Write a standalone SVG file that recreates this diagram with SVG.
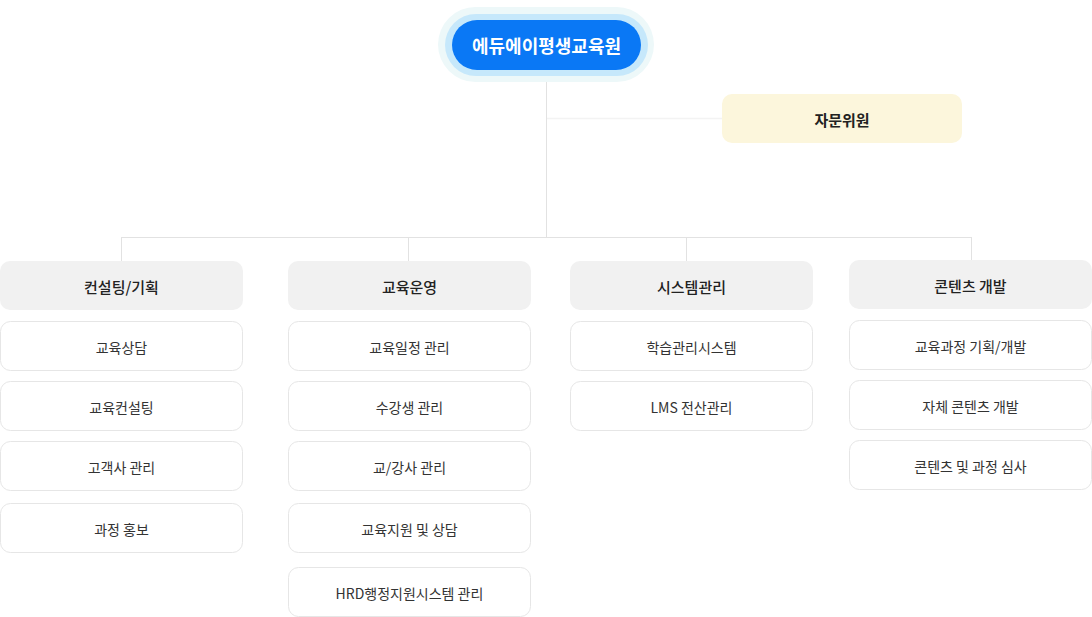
<svg xmlns="http://www.w3.org/2000/svg" width="1092" height="617" viewBox="0 0 1092 617">
<style>
text{font-family:"Noto Sans CJK KR","Noto Sans",sans-serif;text-anchor:middle;dominant-baseline:central;fill:#222}
.h rect{fill:#f1f1f1}
.h text{font-size:15px;font-weight:500}
.i rect{fill:#fff;stroke:#e6e6e6}
.i text{font-size:14px;fill:#333}
.c{stroke:#e2e2e2;stroke-width:1;fill:none}
</style>
<rect width="1092" height="617" fill="#fff"/>
<g id="connectors">
<path class="c" d="M546.5 82V237.5M121.5 237.5H971.5M121.5 237V261M408.5 237V261M686.5 237V261M971.5 237V261"/>
<path d="M547 118.5H722" stroke="#f3f3f3" stroke-width="1.5"/>
</g>
<g id="root">
<rect x="438" y="7" width="216" height="75" rx="37.5" fill="#edf8f9"/>
<rect x="445" y="14" width="203" height="62" rx="31" fill="#c6e8fb"/>
<rect x="452" y="20" width="189" height="50" rx="25" fill="#0a78f5"/>
<text x="546.5" y="45" style="font-size:18px;font-weight:700;fill:#fff">에듀에이평생교육원</text>
</g>
<g id="advisory">
<rect x="722" y="94" width="240" height="49" rx="10" fill="#fcf6dc"/>
<text x="842" y="119" style="font-size:15px;font-weight:700">자문위원</text>
</g>
<g id="h1" class="h"><rect x="0" y="261" width="243" height="49" rx="10"/><text x="121.5" y="286">컨설팅/기획</text></g>
<g id="h2" class="h"><rect x="288" y="261" width="243" height="49" rx="10"/><text x="409.5" y="286">교육운영</text></g>
<g id="h3" class="h"><rect x="570" y="261" width="243" height="49" rx="10"/><text x="691.5" y="286">시스템관리</text></g>
<g id="h4" class="h"><rect x="849" y="260" width="243" height="49" rx="10"/><text x="970.5" y="285">콘텐츠 개발</text></g>
<g id="c1a" class="i"><rect x="0.5" y="321.5" width="242" height="49" rx="10"/><text x="121.5" y="347">교육상담</text></g>
<g id="c1b" class="i"><rect x="0.5" y="381.5" width="242" height="49" rx="10"/><text x="121.5" y="407">교육컨설팅</text></g>
<g id="c1c" class="i"><rect x="0.5" y="441.5" width="242" height="49" rx="10"/><text x="121.5" y="467">고객사 관리</text></g>
<g id="c1d" class="i"><rect x="0.5" y="503.5" width="242" height="49" rx="10"/><text x="121.5" y="529">과정 홍보</text></g>
<g id="c2a" class="i"><rect x="288.5" y="321.5" width="242" height="49" rx="10"/><text x="409.5" y="347">교육일정 관리</text></g>
<g id="c2b" class="i"><rect x="288.5" y="381.5" width="242" height="49" rx="10"/><text x="409.5" y="407">수강생 관리</text></g>
<g id="c2c" class="i"><rect x="288.5" y="441.5" width="242" height="49" rx="10"/><text x="409.5" y="467">교/강사 관리</text></g>
<g id="c2d" class="i"><rect x="288.5" y="503.5" width="242" height="49" rx="10"/><text x="409.5" y="529">교육지원 및 상담</text></g>
<g id="c2e" class="i"><rect x="288.5" y="567.5" width="242" height="49" rx="10"/><text x="409.5" y="593">HRD행정지원시스템 관리</text></g>
<g id="c3a" class="i"><rect x="570.5" y="321.5" width="242" height="49" rx="10"/><text x="691.5" y="347">학습관리시스템</text></g>
<g id="c3b" class="i"><rect x="570.5" y="381.5" width="242" height="49" rx="10"/><text x="691.5" y="407">LMS 전산관리</text></g>
<g id="c4a" class="i"><rect x="849.5" y="320.5" width="242" height="49" rx="10"/><text x="970.5" y="346">교육과정 기획/개발</text></g>
<g id="c4b" class="i"><rect x="849.5" y="380.5" width="242" height="49" rx="10"/><text x="970.5" y="406">자체 콘텐츠 개발</text></g>
<g id="c4c" class="i"><rect x="849.5" y="440.5" width="242" height="49" rx="10"/><text x="970.5" y="466">콘텐츠 및 과정 심사</text></g>
</svg>
